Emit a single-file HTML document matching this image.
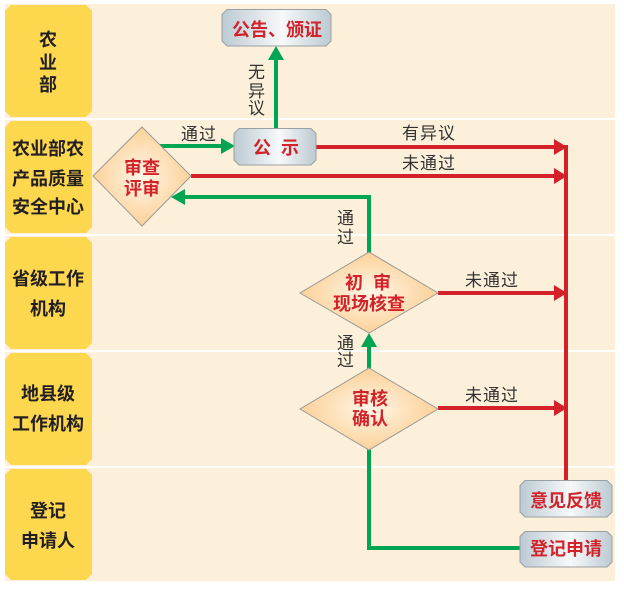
<!DOCTYPE html>
<html><head><meta charset="utf-8">
<style>
html,body{margin:0;padding:0;background:#fff;}
svg{display:block;}
text{font-family:"Liberation Sans","Noto Sans CJK SC",sans-serif;}
.lane{font-size:18px;font-weight:bold;fill:#231f20;}
.node{font-size:18px;font-weight:bold;fill:#d2232a;}
.lbl{font-size:17px;fill:#333;letter-spacing:1px;}
</style></head>
<body>
<svg width="624" height="589" viewBox="0 0 624 589" xmlns="http://www.w3.org/2000/svg">
<defs>
<linearGradient id="bx" x1="0" y1="0" x2="1" y2="0">
<stop offset="0" stop-color="#bccad2"/>
<stop offset="0.55" stop-color="#f7f9fa"/>
<stop offset="1" stop-color="#bccad2"/>
</linearGradient>
<radialGradient id="dm" cx="0.5" cy="0.5" r="0.5">
<stop offset="0" stop-color="#fff6e8"/>
<stop offset="1" stop-color="#fcd197"/>
</radialGradient>
</defs>
<!-- lanes -->
<rect x="5" y="4" width="610" height="114" fill="#fdf0db"/>
<rect x="5" y="120" width="610" height="114" fill="#fdf0db"/>
<rect x="5" y="236" width="610" height="114" fill="#fdf0db"/>
<rect x="5" y="352" width="610" height="114" fill="#fdf0db"/>
<rect x="5" y="468" width="610" height="113" fill="#fdf0db"/>
<!-- yellow label boxes -->
<g fill="#fdd84f">
<polygon points="11,5 86,5 92,11 92,111 86,117 11,117 5,111 5,11"/>
<polygon points="11,121 86,121 92,127 92,227 86,233 11,233 5,227 5,127"/>
<polygon points="11,237 86,237 92,243 92,343 86,349 11,349 5,343 5,243"/>
<polygon points="11,353 86,353 92,359 92,459 86,465 11,465 5,459 5,359"/>
<polygon points="11,469 86,469 92,475 92,574 86,580 11,580 5,574 5,475"/>
</g>
<g class="lane" text-anchor="middle">
<text x="48" y="46">农</text>
<text x="48" y="69">业</text>
<text x="48" y="91">部</text>
<text x="48" y="155">农业部农</text>
<text x="48" y="185">产品质量</text>
<text x="48" y="213">安全中心</text>
<text x="48" y="285">省级工作</text>
<text x="48" y="315">机构</text>
<text x="48" y="400">地县级</text>
<text x="48" y="430">工作机构</text>
<text x="48" y="517">登记</text>
<text x="48" y="547">申请人</text>
</g>

<!-- connectors -->
<g fill="none" stroke-width="4">
<line x1="276" y1="128" x2="276" y2="58" stroke="#00a551"/>
<line x1="160" y1="146" x2="223" y2="146" stroke="#00a551"/>
<line x1="316" y1="147" x2="555" y2="147" stroke="#d42129"/>
<line x1="191" y1="176" x2="555" y2="176" stroke="#d42129"/>
<line x1="566" y1="145" x2="566" y2="481" stroke="#d42129"/>
<polyline points="369,253 369,197 184,197" stroke="#00a551"/>
<line x1="438" y1="293" x2="555" y2="293" stroke="#d42129"/>
<line x1="369" y1="369" x2="369" y2="345" stroke="#00a551"/>
<line x1="438" y1="408" x2="555" y2="408" stroke="#d42129"/>
<polyline points="369,449 369,548 521,548" stroke="#00a551"/>
</g>
<g>
<polygon points="268,60 284,60 276,46" fill="#00a551"/>
<polygon points="221,138 221,154 235,146" fill="#00a551"/>
<polygon points="185,189 185,205 171,197" fill="#00a551"/>
<polygon points="361,347 377,347 369,333" fill="#00a551"/>
<polygon points="554,139 554,155 567,147" fill="#d42129"/>
<polygon points="554,168 554,184 567,176" fill="#d42129"/>
<polygon points="554,285 554,301 567,293" fill="#d42129"/>
<polygon points="554,400 554,416 567,408" fill="#d42129"/>
</g>

<!-- boxes -->
<g fill="url(#bx)" stroke="#9a9fa3" stroke-width="1">
<polygon points="227,9.5 326,9.5 331,14.5 331,41 326,46 227,46 222,41 222,14.5"/>
<polygon points="239,128.5 311,128.5 316,133.5 316,160 311,165 239,165 234,160 234,133.5"/>
<polygon points="525,480.5 607,480.5 612,485.5 612,512 607,517 525,517 520,512 520,485.5"/>
<polygon points="525,531.5 607,531.5 612,536.5 612,562 607,567 525,567 520,562 520,536.5"/>
</g>
<!-- diamonds -->
<g fill="url(#dm)" stroke="#9a9a9a" stroke-width="1">
<polygon points="142,127 191,176 142,226 93,176"/>
<polygon points="369,252 438,293 369,333 300,293"/>
<polygon points="369,368 438,409 369,450 300,409"/>
</g>

<g class="node" text-anchor="middle">
<text x="277" y="36">公告、颁证</text>
<text x="276" y="154" xml:space="preserve">公  示</text>
<text x="142" y="174">审查</text>
<text x="142" y="195">评审</text>
<text x="368" y="289" xml:space="preserve">初  审</text>
<text x="369" y="310">现场核查</text>
<text x="370" y="405">审核</text>
<text x="370" y="425">确认</text>
<text x="566" y="507">意见反馈</text>
<text x="566" y="555">登记申请</text>
</g>

<g class="lbl" text-anchor="middle">
<text x="199" y="140">通过</text>
<text x="257" y="78">无</text>
<text x="257" y="97">异</text>
<text x="257" y="114">议</text>
<text x="429" y="139">有异议</text>
<text x="429" y="169">未通过</text>
<text x="346" y="224">通</text>
<text x="346" y="243">过</text>
<text x="492" y="286">未通过</text>
<text x="346" y="349">通</text>
<text x="346" y="366">过</text>
<text x="492" y="401">未通过</text>
</g>
</svg>
</body></html>
